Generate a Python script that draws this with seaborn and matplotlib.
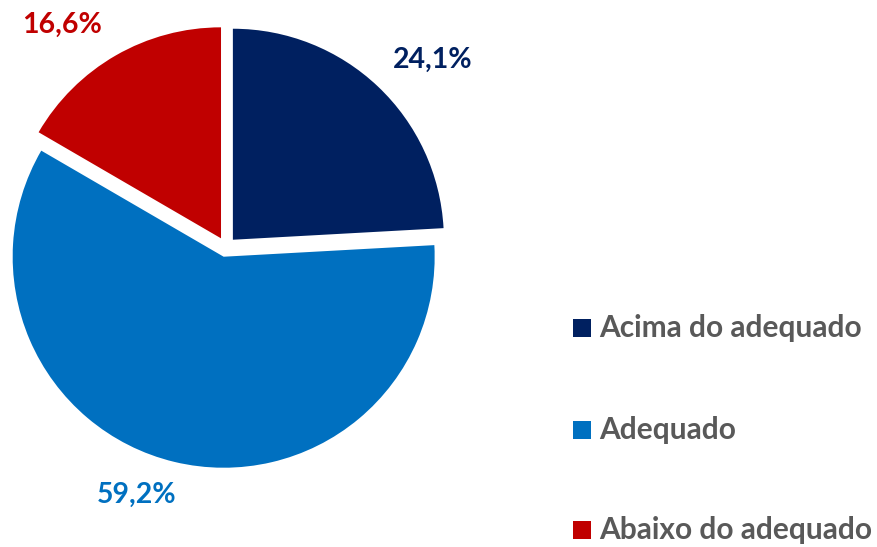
import matplotlib
matplotlib.use("Agg")
import matplotlib.pyplot as plt
import seaborn as sns
from matplotlib.patches import Rectangle

categories = ["Acima do adequado", "Adequado", "Abaixo do adequado"]
values = [24.1, 59.2, 16.6]
value_labels = ["24,1%", "59,2%", "16,6%"]
colors = ["#002060", "#0070C0", "#C00000"]

sns.set_style("white")
plt.rcParams["font.family"] = ["Lato", "DejaVu Sans"]

W, H = 878, 547
fig = plt.figure(figsize=(W / 100, H / 100), dpi=100)
ax = fig.add_axes([0, 0, 1, 1])

center = (226, H - 247)
radius = 211
# explode is in data units here (pixels)
ax.pie(values, colors=colors, startangle=90, counterclock=False,
       center=center, radius=radius, explode=[10, 10, 10],
       wedgeprops=dict(linewidth=0), frame=True)
ax.set_xlim(0, W)
ax.set_ylim(0, H)
ax.set_aspect("equal")
ax.axis("off")

# percent labels (screen positions of text centres)
label_pos = [(433, 60), (137, 495), (62, 25)]
for (x, y), txt, c in zip(label_pos, value_labels, colors):
    ax.text(x, H - y, txt, color=c, fontsize=20.5, fontweight="bold",
            ha="center", va="center")

# legend
leg_y = [328, 430, 530]
for y, name, c in zip(leg_y, categories, colors):
    ax.add_patch(Rectangle((573, H - y - 9), 18, 18, color=c, linewidth=0))
    ax.text(599, H - y, name, color="#595959", fontsize=21.5, fontweight="bold",
            ha="left", va="center")

fig.savefig("out.png", dpi=100)
